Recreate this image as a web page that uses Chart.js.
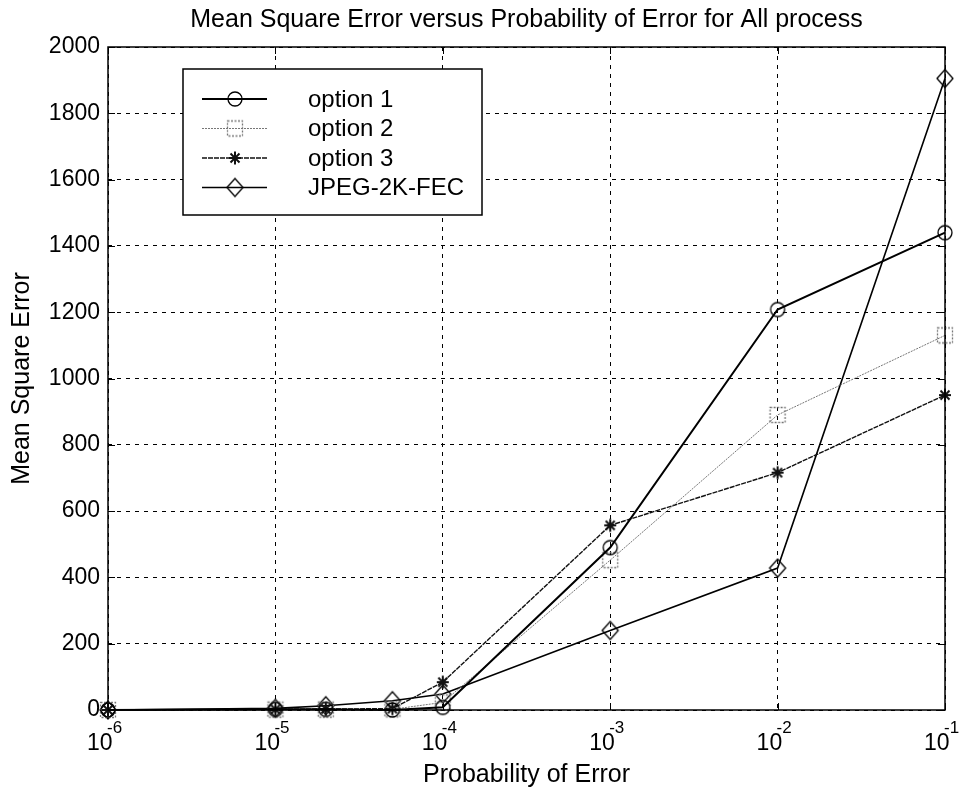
<!DOCTYPE html>
<html lang="en">
<head>
  <meta charset="UTF-8">
  <title>Mean Square Error versus Probability of Error</title>
  <script src="https://cdn.jsdelivr.net/npm/chart.js"></script>
  <style>
    body {
      margin: 0;
      background: #ffffff;
    }
    #wrap {
      width: 968px;
      height: 791px;
    }
  </style>
</head>
<body>
  <div id="wrap"><canvas id="mseChart" width="968" height="791"></canvas></div>

  <script>
    // data
    const probs = [1e-6, 1e-5, 2e-5, 5e-5, 1e-4, 1e-3, 1e-2, 1e-1];
    const option1 = [0, 2, 2, 0, 8, 490, 1208, 1440];
    const option2 = [0, 1, 1, 2, 23, 452, 890, 1130];
    const option3 = [0, 2, 3, 4, 84, 557, 716, 950];
    const jpegFec = [0, 5, 13, 28, 48, 240, 428, 1905];
    const seriesNames = ['option 1', 'option 2', 'option 3', 'JPEG-2K-FEC'];
    const probTicks = [1e-6, 1e-5, 1e-4, 1e-3, 1e-2, 1e-1];
    const mseTicks = [0, 200, 400, 600, 800, 1000, 1200, 1400, 1600, 1800, 2000];
    const chartTitle = 'Mean Square Error versus Probability of Error for All process';

    const FONT = "'Liberation Sans', Arial, sans-serif";

    // matlab-ish open markers
    function makeMarker(kind, color) {
      const c = document.createElement('canvas');
      c.width = 24; c.height = 24;
      const g = c.getContext('2d');
      const m = 12;
      g.strokeStyle = color;
      g.lineWidth = 1.3;
      g.beginPath();
      if (kind === 'circle') {
        g.arc(m, m, 7, 0, Math.PI * 2);
      } else if (kind === 'square') {
        g.setLineDash([2, 1.5]);
        g.rect(m - 7.5, m - 7.5, 15, 15);
      } else if (kind === 'star') {
        g.lineWidth = 2;
        g.moveTo(m - 6, m); g.lineTo(m + 6, m);
        g.moveTo(m, m - 6.5); g.lineTo(m, m + 6.5);
        g.moveTo(m - 4.5, m - 4.5); g.lineTo(m + 4.5, m + 4.5);
        g.moveTo(m - 4.5, m + 4.5); g.lineTo(m + 4.5, m - 4.5);
      } else {
        g.moveTo(m - 8, m); g.lineTo(m, m - 9);
        g.lineTo(m + 8, m); g.lineTo(m, m + 9);
        g.closePath();
      }
      g.stroke();
      return c;
    }

    function pts(vals) {
      return probs.map((p, i) => ({ x: p, y: vals[i] }));
    }

    const markers = [
      makeMarker('circle', '#000'),
      makeMarker('square', '#777'),
      makeMarker('star', '#111'),
      makeMarker('diamond', '#000')
    ];

    // frame, inward ticks, legend box, title and 10^n labels
    const matlabAxes = {
      id: 'matlabAxes',
      afterDatasetsDraw(chart) {
        const ctx = chart.ctx;
        const a = chart.chartArea;
        const xs = chart.scales.x, ys = chart.scales.y;
        ctx.save();
        ctx.strokeStyle = '#000';
        ctx.lineWidth = 1.5;
        ctx.setLineDash([]);
        ctx.strokeRect(a.left, a.top, a.right - a.left, a.bottom - a.top);
        ctx.lineWidth = 1;
        ctx.beginPath();
        probTicks.forEach(v => {
          const x = Math.round(xs.getPixelForValue(v)) + 0.5;
          ctx.moveTo(x, a.bottom); ctx.lineTo(x, a.bottom - 7);
          ctx.moveTo(x, a.top); ctx.lineTo(x, a.top + 7);
        });
        mseTicks.forEach(v => {
          const y = Math.round(ys.getPixelForValue(v)) + 0.5;
          ctx.moveTo(a.left, y); ctx.lineTo(a.left + 7, y);
          ctx.moveTo(a.right, y); ctx.lineTo(a.right - 7, y);
        });
        ctx.stroke();

        // legend
        const lx = a.left + 75, ly = a.top + 22, lw = 299, lh = 146;
        ctx.fillStyle = '#fff';
        ctx.fillRect(lx, ly, lw, lh);
        ctx.strokeStyle = '#000';
        ctx.lineWidth = 1.5;
        ctx.strokeRect(lx, ly, lw, lh);
        chart.data.datasets.forEach((ds, i) => {
          const ry = ly + 30 + i * 29.5;
          ctx.save();
          ctx.strokeStyle = ds.borderColor;
          ctx.lineWidth = ds.borderWidth;
          ctx.setLineDash(ds.borderDash || []);
          ctx.beginPath();
          ctx.moveTo(lx + 19, ry); ctx.lineTo(lx + 84, ry);
          ctx.stroke();
          ctx.restore();
          ctx.drawImage(markers[i], lx + 52 - 12, ry - 12);
          ctx.fillStyle = '#000';
          ctx.font = '24px ' + FONT;
          ctx.textBaseline = 'middle';
          ctx.textAlign = 'left';
          ctx.fillText(seriesNames[i], lx + 125, ry + 1);
        });
        ctx.restore();
      },
      afterDraw(chart) {
        const ctx = chart.ctx;
        const a = chart.chartArea;
        const xs = chart.scales.x;
        ctx.save();
        ctx.fillStyle = '#000';
        ctx.textBaseline = 'alphabetic';
        ctx.textAlign = 'left';
        probTicks.forEach(v => {
          const x = xs.getPixelForValue(v);
          ctx.font = '23px ' + FONT;
          ctx.fillText('10', x - 21, a.bottom + 40);
          ctx.font = '17px ' + FONT;
          ctx.fillText(String(Math.round(Math.log10(v))), x - 1, a.bottom + 23);
        });
        // title centred over the axes, as matlab does
        ctx.font = '25px ' + FONT;
        ctx.textAlign = 'center';
        ctx.textBaseline = 'middle';
        ctx.fillText(chartTitle, (a.left + a.right) / 2, 20);
        ctx.restore();
      }
    };

    new Chart(document.getElementById('mseChart'), {
      type: 'line',
      data: {
        datasets: [
          {
            label: seriesNames[0],
            data: pts(option1),
            borderColor: '#000',
            borderWidth: 2,
            pointStyle: markers[0],
            clip: false
          },
          {
            label: seriesNames[1],
            data: pts(option2),
            borderColor: '#777',
            borderWidth: 1,
            borderDash: [2, 1],
            pointStyle: markers[1],
            clip: false
          },
          {
            label: seriesNames[2],
            data: pts(option3),
            borderColor: '#111',
            borderWidth: 1.4,
            borderDash: [5, 1],
            pointStyle: markers[2],
            clip: false
          },
          {
            label: seriesNames[3],
            data: pts(jpegFec),
            borderColor: '#000',
            borderWidth: 1.6,
            pointStyle: markers[3],
            clip: false
          }
        ]
      },
      options: {
        responsive: false,
        animation: false,
        devicePixelRatio: 1,
        layout: { padding: { left: 0, right: 23, top: 47, bottom: 0 } },
        plugins: {
          legend: { display: false },
          tooltip: { enabled: false },
          title: { display: false }
        },
        scales: {
          x: {
            type: 'logarithmic',
            min: 1e-6,
            max: 1e-1,
            afterBuildTicks: s => { s.ticks = probTicks.map(v => ({ value: v })); },
            afterFit: s => { s.height = 81; },
            ticks: { display: false },
            grid: { color: '#000', lineWidth: 1, drawTicks: false },
            border: { display: false, dash: [4, 5] },
            title: {
              display: true,
              text: 'Probability of Error',
              color: '#000',
              font: { family: FONT, size: 25 },
              padding: { top: 0, bottom: 1 }
            }
          },
          y: {
            min: 0,
            max: 2000,
            afterBuildTicks: s => { s.ticks = mseTicks.map(v => ({ value: v })); },
            afterFit: s => { s.width = 108; },
            ticks: {
              color: '#000',
              font: { family: FONT, size: 23 },
              padding: 8,
              callback: v => String(v)
            },
            grid: { color: '#000', lineWidth: 1, drawTicks: false },
            border: { display: false, dash: [4, 5] },
            title: {
              display: true,
              text: 'Mean Square Error',
              color: '#000',
              font: { family: FONT, size: 25 },
              padding: { top: 7, bottom: 0 }
            }
          }
        }
      },
      plugins: [matlabAxes]
    });
  </script>
</body>
</html>
